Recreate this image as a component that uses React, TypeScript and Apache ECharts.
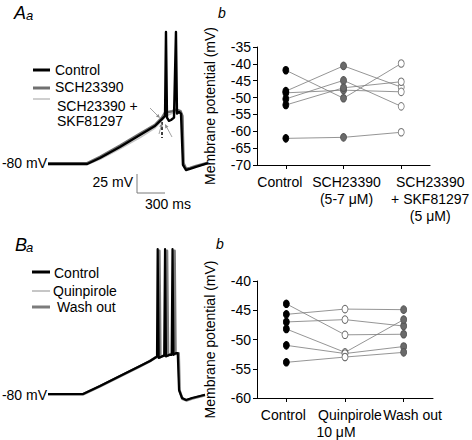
import React, { useEffect, useRef } from "react";
import * as echarts from "echarts";

const FONT = "Arial, Liberation Sans, Helvetica, sans-serif";

// ---------- Panel Ab (membrane potential per cell) ----------
const abCategories = ["Control", "SCH23390\n(5-7 μM)", "SCH23390\n+ SKF81297\n(5 μM)"];
const abControl = [-41.9, -48.1, -48.6, -50.4, -52.2, -62.1];
const abSch = [-50.2, -40.6, -47.8, -44.9, -47.1, -61.8];
const abSchSkf = [-39.9, -46.9, -48.3, -52.6, -45.3, -60.3];
const abAxis = { min: -70, max: -35, interval: 5 };

// ---------- Panel Bb ----------
const bbCategories = ["Control", "Quinpirole\n10 μM", "Wash out"];
const bbControl = [-43.9, -45.7, -47.0, -48.2, -51.0, -53.9];
const bbQuin = [-49.2, -44.8, -46.6, -52.2, -52.4, -53.0];
const bbWash = [-49.1, -44.9, -47.7, -46.6, -51.2, -52.2];
const bbAxis = { min: -60, max: -40, interval: 5 };

// ---------- Trace Aa (time ms, mV) ----------
const aaControl: number[][] = [
  [0, -80], [420, -80], [557, -72.5], [771, -58.8], [986, -43.8], [1146, -32.5], [1221, -23.8],
  [1254, -20], [1264, 85], [1275, -22], [1296, -26], [1318, -25], [1350, -22], [1371, 85],
  [1382, -17], [1404, -15], [1425, -17], [1446, -81], [1478, -87.5], [1521, -86], [1586, -83.5], [1714, -79],
];
const aaSch: number[][] = [
  [0, -79], [420, -79], [557, -71], [771, -57], [986, -42], [1146, -31], [1221, -22], [1254, -16],
  [1290, -15], [1330, -14], [1380, -12], [1420, -14], [1440, -20], [1452, -79], [1480, -86],
  [1521, -85], [1586, -82.5], [1714, -78.5],
];
const aaSchSkf: number[][] = [
  [0, -80.5], [420, -80.5], [557, -74], [771, -61], [986, -47], [1146, -35], [1221, -26], [1254, -21],
  [1300, -18], [1380, -14], [1420, -16], [1440, -22], [1452, -80], [1480, -87], [1521, -86],
  [1586, -83], [1714, -79.5],
];

// ---------- Trace Ba ----------
const baControl: number[][] = [
  [0, -80], [375, -80], [557, -70], [771, -57.5], [986, -45], [1093, -38.8], [1157, -34], [1168, -33],
  [1175, 101], [1186, -35], [1220, -33], [1245, -32], [1254, 101], [1264, -33], [1300, -31],
  [1325, -31], [1334, 101], [1344, -31], [1370, -29], [1390, -29], [1404, -75], [1436, -85],
  [1479, -87.5], [1543, -85], [1682, -81],
];
const baQuin: number[][] = [
  [0, -79.5], [375, -79.5], [557, -69.5], [771, -57], [986, -44.5], [1093, -38], [1157, -33.5],
  [1172, -33], [1181, 100], [1192, -34], [1230, -32], [1252, -32], [1261, 100], [1271, -32],
  [1310, -30], [1332, -30], [1341, 100], [1351, -30], [1378, -29], [1395, -29], [1407, -75],
  [1438, -85], [1480, -87], [1545, -85], [1682, -80.5],
];
const baWash: number[][] = [
  [0, -80.5], [375, -80.5], [557, -70.5], [771, -58], [986, -45.5], [1093, -39], [1157, -34],
  [1180, -33], [1193, 99], [1204, -34], [1240, -32], [1264, -32], [1275, 99], [1286, -32],
  [1320, -30], [1345, -30], [1356, 99], [1366, -30], [1385, -29], [1400, -29], [1410, -76],
  [1440, -86], [1482, -88], [1545, -85.5], [1682, -81.5],
];

const txt = (
  x: number, y: number, text: string, size = 14, align = "left", italic = false, fill = "#000"
) => ({
  type: "text",
  x, y, silent: true,
  style: {
    text, fill,
    font: `${italic ? "italic " : ""}${size}px ${FONT}`,
    textAlign: align, align,
    textVerticalAlign: "middle", verticalAlign: "middle",
  },
});

const seg = (x1: number, y1: number, x2: number, y2: number, stroke: string, lineWidth: number, lineDash?: number[]) => ({
  type: "line", silent: true,
  shape: { x1, y1, x2, y2 },
  style: { stroke, lineWidth, lineDash },
});

const arrow = (x1: number, y1: number, x2: number, y2: number) => {
  const dx = x2 - x1, dy = y2 - y1;
  const L = Math.hypot(dx, dy);
  const ux = dx / L, uy = dy / L;
  const hl = 4, hw = 1.8;
  const bx = x2 - ux * hl, by = y2 - uy * hl;
  return [
    seg(x1, y1, bx, by, "#8a8a8a", 0.8),
    {
      type: "polygon", silent: true,
      shape: { points: [[x2, y2], [bx - uy * hw, by + ux * hw], [bx + uy * hw, by - ux * hw]] },
      style: { fill: "#8a8a8a" },
    },
  ];
};

const richBase = { fontSize: 14, fontFamily: FONT, color: "#000", lineHeight: 17 };

function catAxis(gridIndex: number, data: any[], formatter?: (v: string) => string) {
  return {
    type: "category", gridIndex, data, boundaryGap: true,
    axisLine: { show: true, lineStyle: { color: "#000", width: 1 } },
    axisTick: { show: true, alignWithLabel: true, length: 4, lineStyle: { color: "#000" } },
    axisLabel: {
      color: "#000", fontSize: 14, fontFamily: FONT, lineHeight: 17, margin: 8, interval: 0,
      formatter,
      rich: {
        top: { ...richBase },
        sub: { ...richBase, padding: [0, 28, 0, 0] },
      },
    },
    splitLine: { show: false },
  };
}

function valAxis(gridIndex: number, ax: { min: number; max: number; interval: number }) {
  return {
    type: "value", gridIndex, min: ax.min, max: ax.max, interval: ax.interval,
    name: "Membrane potential (mV)", nameLocation: "middle", nameGap: 40,
    nameTextStyle: { color: "#000", fontSize: 14, fontFamily: FONT },
    axisLine: { show: true, lineStyle: { color: "#000", width: 1 } },
    axisTick: { show: true, length: 4, lineStyle: { color: "#000" } },
    axisLabel: { color: "#000", fontSize: 14, fontFamily: FONT, margin: 6 },
    splitLine: { show: false },
  };
}

function traceSeries(xi: number, data: number[][], color: string, width: number) {
  return {
    type: "line", xAxisIndex: xi, yAxisIndex: xi, data, showSymbol: false, symbol: "none",
    lineStyle: { color, width, join: "round" }, silent: true, z: 2,
  };
}

function cellLines(xi: number, a: number[], b: number[], c: number[]) {
  return a.map((_, i) => ({
    type: "line", xAxisIndex: xi, yAxisIndex: xi, data: [a[i], b[i], c[i]],
    showSymbol: false, symbol: "none", silent: true,
    lineStyle: { color: "#7a7a7a", width: 0.8 }, z: 2,
  }));
}

function dots(xi: number, col: number, values: number[], fill: string, border: string) {
  return {
    type: "scatter", xAxisIndex: xi, yAxisIndex: xi, silent: true,
    data: values.map((v) => [col, v]),
    symbol: "circle", symbolSize: [6, 7.5],
    itemStyle: { color: fill, borderColor: border, borderWidth: 0.9, opacity: 1 },
    z: 4,
  };
}

export default function App() {
  const ref = useRef<HTMLDivElement>(null);
  useEffect(() => {
    if (!ref.current) return;
    const chart = echarts.init(ref.current, null, { renderer: "svg" });
    const abData = [
      { value: abCategories[0], textStyle: { padding: [0, 12, 0, 0] } },
      { value: abCategories[1], textStyle: { padding: [0, 0, 0, 6] } },
      { value: abCategories[2], textStyle: { padding: [0, 0, 0, 58] } },
    ];
    const bbData = [
      { value: bbCategories[0], textStyle: { padding: [0, 6, 0, 0] } },
      { value: bbCategories[1], textStyle: { padding: [0, 0, 0, 10] } },
      { value: bbCategories[2], textStyle: { padding: [0, 0, 0, 18] } },
    ];
    const bbFormatter = (v: string) => {
      if (v === bbCategories[1]) {
        const [a, b] = v.split("\n");
        return `{top|${a}}\n{sub|${b}}`;
      }
      return v;
    };
    const option = {
      animation: false,
      backgroundColor: "#fff",
      textStyle: { fontFamily: FONT },
      grid: [
        { left: 48, top: 20, width: 168, height: 160 },
        { left: 257, top: 47, width: 175, height: 118 },
        { left: 48, top: 246, width: 168, height: 160 },
        { left: 257, top: 281, width: 176, height: 119 },
      ],
      xAxis: [
        { type: "value", gridIndex: 0, min: 0, max: 1800, show: false },
        catAxis(1, abData),
        { type: "value", gridIndex: 2, min: 0, max: 1800, show: false },
        catAxis(3, bbData, bbFormatter),
      ],
      yAxis: [
        { type: "value", gridIndex: 0, min: -100, max: 100, show: false },
        valAxis(1, abAxis),
        { type: "value", gridIndex: 2, min: -95, max: 105, show: false },
        valAxis(3, bbAxis),
      ],
      series: [
        traceSeries(0, aaSchSkf, "#c4c4c4", 1.6),
        traceSeries(0, aaSch, "#707070", 2.6),
        traceSeries(0, aaControl, "#000", 2.4),
        traceSeries(2, baQuin, "#a0a0a0", 1.2),
        traceSeries(2, baWash, "#7c7c7c", 2.6),
        traceSeries(2, baControl, "#000", 2.2),
        ...cellLines(1, abControl, abSch, abSchSkf),
        dots(1, 0, abControl, "#000", "#000"),
        dots(1, 1, abSch, "#6a6a6a", "#555"),
        dots(1, 2, abSchSkf, "#fff", "#777"),
        ...cellLines(3, bbControl, bbQuin, bbWash),
        dots(3, 0, bbControl, "#000", "#000"),
        dots(3, 1, bbQuin, "#fff", "#666"),
        dots(3, 2, bbWash, "#6a6a6a", "#555"),
      ],
      graphic: [
        // panel letters
        txt(14, 13, "A", 18, "left", true),
        txt(26, 15, "a", 13, "left", true),
        txt(222, 13, "b", 14, "center", true),
        txt(15, 245, "B", 18, "left", true),
        txt(26, 247, "a", 13, "left", true),
        txt(220, 244, "b", 14, "center", true),
        // Aa legend
        seg(33, 70, 50, 70, "#000", 3),
        seg(33, 88, 50, 88, "#707070", 3),
        seg(33, 99, 50, 99, "#c4c4c4", 1.6),
        txt(55, 70, "Control"),
        txt(55, 87, "SCH23390"),
        txt(57, 106, "SCH23390 +"),
        txt(57, 121, "SKF81297"),
        // Ba legend
        seg(32, 272, 50, 272, "#000", 3),
        seg(32, 291, 50, 291, "#a0a0a0", 1.2),
        seg(32, 307, 50, 307, "#7c7c7c", 3),
        txt(54, 273, "Control"),
        txt(53, 291, "Quinpirole"),
        txt(57, 307, "Wash out"),
        // resting potential labels
        txt(47, 163, "-80 mV", 14, "right"),
        txt(47, 395, "-80 mV", 14, "right"),
        // scale bar
        seg(137, 174, 137, 193, "#7a7a7a", 1),
        seg(137, 193, 165, 193, "#7a7a7a", 1),
        txt(133, 182, "25 mV", 14, "right"),
        txt(168, 204, "300 ms", 14, "center"),
        // threshold marker and arrows
        seg(162, 122, 162, 138, "#000", 1.5, [3, 2]),
        ...arrow(150, 108, 160, 118),
        ...arrow(159, 134, 162, 123),
        ...arrow(172, 137, 165, 124),
      ],
    };
    chart.setOption(option as any);
    return () => chart.dispose();
  }, []);
  return (
    <div
      ref={ref}
      style={{ position: "fixed", left: 0, top: 0, width: 472, height: 440, background: "#fff" }}
    />
  );
}
